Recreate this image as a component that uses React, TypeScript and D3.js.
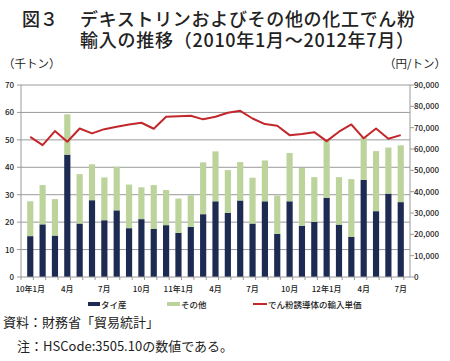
import * as d3 from "d3";

// months 2010/1 .. 2012/7
const months = d3.range(31).map((i) => `m${i}`);
const tickLabels: [number, string][] = [
  [0, "10年1月"], [3, "4月"], [6, "7月"], [9, "10月"],
  [12, "11年1月"], [15, "4月"], [18, "7月"], [21, "10月"],
  [24, "12年1月"], [27, "4月"], [30, "7月"],
];

// 千トン
const thai = [
  14.9, 19.2, 15.1, 44.6, 19.5, 28.0, 20.7, 24.3, 17.8, 21.1, 17.5, 18.9,
  16.1, 18.3, 22.9, 27.6, 23.4, 27.9, 19.5, 27.6, 15.7, 27.6, 18.7, 20.1,
  28.9, 19.1, 14.6, 35.4, 24.0, 30.4, 27.3,
];
const total = [
  27.6, 33.5, 28.4, 59.3, 37.5, 41.1, 36.3, 40.2, 33.7, 32.7, 33.5, 31.7,
  28.6, 29.8, 41.8, 45.8, 39.0, 41.9, 36.2, 42.5, 29.7, 45.2, 39.8, 36.4,
  49.9, 36.4, 35.7, 50.9, 45.9, 47.2, 48.0,
];

// 円/トン
const unitPrice = [
  65700, 61800, 68400, 63400, 69600, 67300, 69300, 70400, 71500, 72300, 69500, 75100,
  75400, 75600, 73900, 75100, 77000, 77900, 74300, 71700, 70900, 66500, 67000, 67900,
  63700, 68100, 71500, 65000, 69600, 64800, 66500,
];

const leftTicks = [0, 10, 20, 30, 40, 50, 60, 70];
const rightTicks = d3.range(0, 90001, 10000);

const NAVY = "#1d2b53";
const GREEN = "#bdd39c";
const RED = "#c3272b";
const GRID = "#9a9a9a";
const FONT = "'Noto Sans CJK JP', 'Noto Sans', sans-serif";

export default function App() {
  const W = 450, H = 361;
  const left = 21, right = 410, top = 85, bottom = 277;

  const x = d3.scaleBand().domain(months).range([left, right]).padding(0.5);
  const y = d3.scaleLinear().domain([0, 70]).range([bottom, top]);
  const y2 = d3.scaleLinear().domain([0, 90000]).range([bottom, top]);
  const cx = (i: number) => x(months[i])! + x.bandwidth() / 2;

  const line = d3
    .line<number>()
    .x((_, i) => cx(i))
    .y((d) => y2(d));

  const step = x.step();

  return (
    <svg
      width={W}
      height={H}
      style={{ position: "absolute", left: 0, top: 0, background: "#fff" }}
      fontFamily={FONT}
    >
      {/* title, two lines in one text */}
      <text fontSize={18} fontWeight={500} fill="#222">
        <tspan x={22} y={26}>図３</tspan>
        <tspan x={80} y={26} textLength={335} lengthAdjust="spacing">
          デキストリンおよびその他の化工でん粉
        </tspan>
        <tspan x={80} y={47} textLength={334} lengthAdjust="spacing">
          輸入の推移（2010年1月～2012年7月）
        </tspan>
      </text>

      {/* unit labels */}
      <text x={3} y={68} fontSize={11.5} fill="#222">（千トン）</text>
      <text x={446} y={68} fontSize={11.5} fill="#222" textAnchor="end">（円/トン）</text>

      {/* gridlines */}
      {leftTicks.slice(1).map((t) => (
        <line key={t} x1={left} x2={right} y1={y(t)} y2={y(t)} stroke={GRID} strokeWidth={1} />
      ))}

      {/* stacked bars */}
      {months.map((m, i) => (
        <g key={m}>
          <rect x={x(m)} width={x.bandwidth()} y={y(thai[i])} height={y(0) - y(thai[i])} fill={NAVY} />
          <rect x={x(m)} width={x.bandwidth()} y={y(total[i])} height={y(thai[i]) - y(total[i])} fill={GREEN} />
        </g>
      ))}

      {/* axes */}
      <line x1={left} x2={left} y1={top} y2={bottom} stroke={GRID} />
      <line x1={right} x2={right} y1={top} y2={bottom} stroke={GRID} />
      <line x1={left} x2={right} y1={bottom} y2={bottom} stroke={GRID} />
      {leftTicks.map((t) => (
        <g key={t}>
          <line x1={left - 4} x2={left} y1={y(t)} y2={y(t)} stroke={GRID} />
          <text x={14} y={y(t) + 3} fontSize={8} fontWeight={500} textAnchor="end" fill="#222">{t}</text>
        </g>
      ))}
      {rightTicks.map((t) => (
        <g key={t}>
          <line x1={right} x2={right + 4} y1={y2(t)} y2={y2(t)} stroke={GRID} />
          <text x={414} y={y2(t) + 3} fontSize={8} fontWeight={500} fill="#222">{d3.format(",")(t)}</text>
        </g>
      ))}
      {d3.range(months.length + 1).map((i) => (
        <line key={i} x1={left + i * step} x2={left + i * step} y1={bottom} y2={bottom + 3} stroke={GRID} />
      ))}
      {tickLabels.map(([i, lab]) => (
        <text key={i} x={cx(i)} y={292} fontSize={8} fontWeight={500} textAnchor="middle" fill="#222">{lab}</text>
      ))}

      {/* price line */}
      <path d={line(unitPrice)!} fill="none" stroke={RED} strokeWidth={2} strokeLinejoin="round" />

      {/* legend */}
      <rect x={88} y={302} width={12} height={4} fill={NAVY} />
      <text x={101} y={308} fontSize={8.5} fontWeight={500} fill="#222">タイ産</text>
      <rect x={167} y={302} width={13} height={4} fill={GREEN} />
      <text x={181} y={308} fontSize={8.5} fontWeight={500} fill="#222">その他</text>
      <line x1={253} x2={267} y1={304} y2={304} stroke={RED} strokeWidth={2} />
      <text x={268} y={308} fontSize={8.5} fontWeight={500} fill="#222">でん粉誘導体の輸入単価</text>

      {/* footer */}
      <text x={3} y={327} fontSize={13} fill="#222">資料：財務省「貿易統計」</text>
      <text x={17} y={351} fontSize={13} fill="#222">注：HSCode:3505.10の数値である。</text>
    </svg>
  );
}
